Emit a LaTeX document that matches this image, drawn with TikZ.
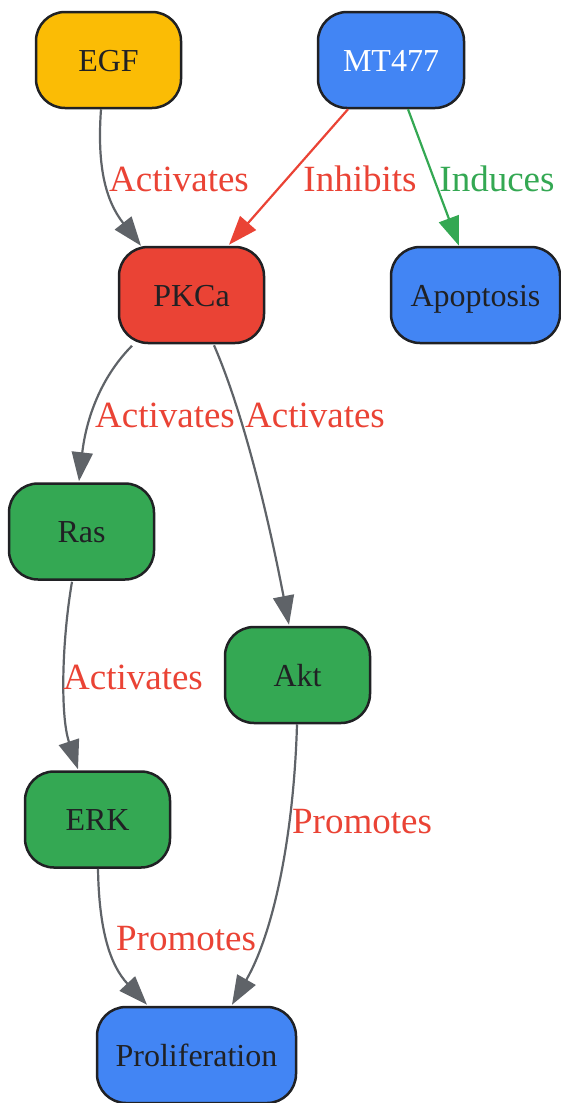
\documentclass[tikz,border=0pt]{standalone}
\usepackage{fontspec}
\setmainfont{Liberation Serif}
\usetikzlibrary{arrows.meta,calc}
\definecolor{gyellow}{HTML}{FBBC05}
\definecolor{gblue}{HTML}{4285F4}
\definecolor{gred}{HTML}{EA4335}
\definecolor{ggreen}{HTML}{34A853}
\definecolor{ggray}{HTML}{5F6368}
\definecolor{gdark}{HTML}{202124}
\tikzset{
  box/.style={rectangle, rounded corners=29pt, draw=gdark, line width=2.5pt,
    minimum width=145pt, minimum height=96pt, inner sep=0pt,
    text height=22pt, text depth=0pt, text=gdark,
    font=\fontsize{32}{36}\selectfont},
  conn/.style={draw=ggray, line width=2.2pt,
    -{Triangle[length=29pt,width=21pt]}},
  elabel/.style={anchor=base, inner sep=0pt, text=gred,
    font=\fontsize{37}{41}\selectfont}
}
\begin{document}
\begin{tikzpicture}[x=1pt,y=-1pt]
\useasboundingbox (0,0) rectangle (561,1103);
% nodes
\node[box, fill=gyellow] (egf) at (108.5,60) {EGF};
\node[box, fill=gblue, text=white, minimum width=146pt] (mt) at (391,60) {MT477};
\node[box, fill=gred] (pkc) at (191.5,295) {PKCa};
\node[box, fill=gblue, minimum width=169pt] (apo) at (475.5,295) {Apoptosis};
\node[box, fill=ggreen] (ras) at (81.5,531.5) {Ras};
\node[box, fill=ggreen] (akt) at (297.5,675) {Akt};
\node[box, fill=ggreen] (erk) at (97.5,819.5) {ERK};
\node[box, fill=gblue, minimum width=199pt] (pro) at (196.5,1055) {Proliferation};
% edges
\draw[conn] ($(egf.south)+(-7.5,0)$) .. controls (97,165) and (105,200) .. ($(pkc.north)+(-50.5,0)$);
\draw[conn, draw=gred, fill=gred] ($(mt.south)+(-43,0)$) -- ($(pkc.north)+(37.5,-1)$);
\draw[conn, draw=ggreen, fill=ggreen] ($(mt.south)+(17,0)$) -- ($(apo.north)+(-16.5,0)$);
\draw[conn] ($(pkc.south)+(-59.5,1.5)$) .. controls (100,378) and (86,420) .. ($(ras.north)+(-2.5,-1)$);
\draw[conn] ($(pkc.south)+(22.5,1)$) .. controls (240,405) and (265,500) .. ($(akt.north)+(-8.5,-1)$);
\draw[conn] ($(ras.south)+(-9.5,1)$) .. controls (62,640) and (60,715) .. ($(erk.north)+(-19.5,-1)$);
\draw[conn] ($(erk.south)+(0.5,0)$) .. controls (99,930) and (110,965) .. ($(pro.north)+(-49.5,-1)$);
\draw[conn] ($(akt.south)+(-0.5,0)$) .. controls (294,830) and (275,930) .. ($(pro.north)+(35.5,-1)$);
% labels
\node[elabel] (l1) at (179,191) {Activates};
\node[elabel] (l2) at (360,191) {Inhibits};
\node[elabel, text=ggreen] (l3) at (497,191) {Induces};
\node[elabel] (l4) at (165,427) {Activates};
\node[elabel] (l5) at (315,427) {Activates};
\node[elabel] (l6) at (133,689) {Activates};
\node[elabel] (l7) at (362,833) {Promotes};
\node[elabel] (l8) at (186,950) {Promotes};
\end{tikzpicture}
\end{document}
